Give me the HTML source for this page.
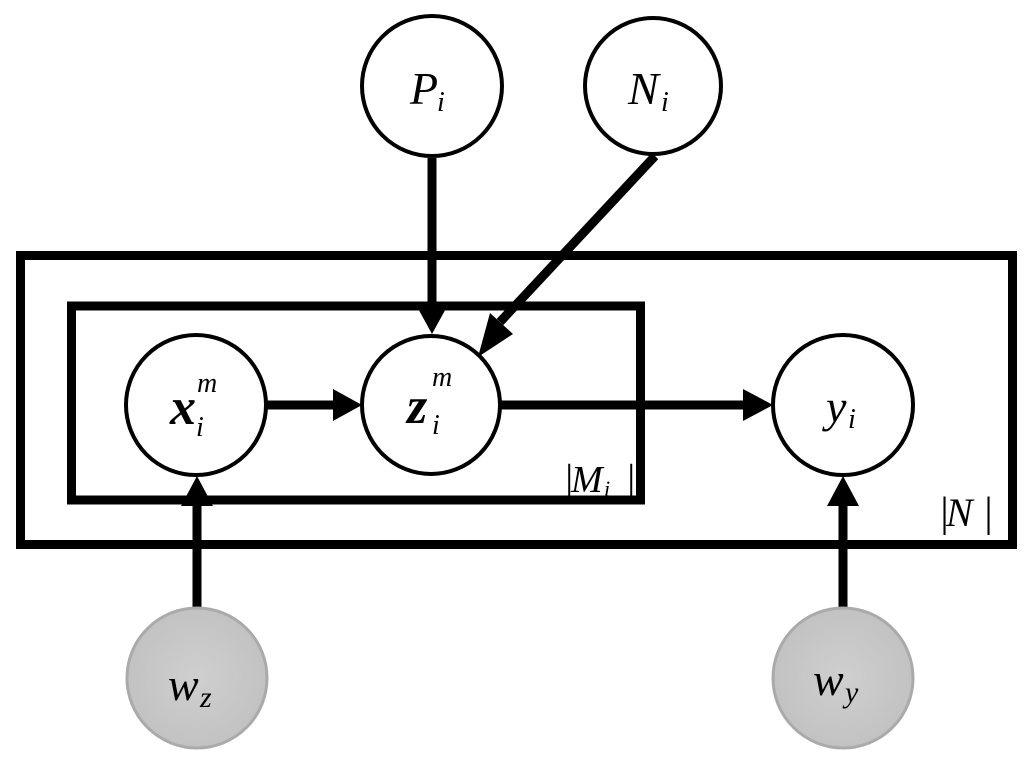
<!DOCTYPE html>
<html><head><meta charset="utf-8"><style>
html,body{margin:0;padding:0;background:#fff;}
svg{display:block;}
text{font-family:"Liberation Serif",serif;font-style:italic;fill:#000;}
</style></head><body>
<svg width="1024" height="772" viewBox="0 0 1024 772" xmlns="http://www.w3.org/2000/svg">
<defs>
<radialGradient id="g" cx="50%" cy="50%" r="50%">
<stop offset="0" stop-color="#cfcfcf"/><stop offset="1" stop-color="#c2c2c2"/>
</radialGradient>
</defs>
<rect x="20.5" y="255.5" width="992" height="289" fill="none" stroke="#000" stroke-width="9"/>
<rect x="71.5" y="306" width="569" height="194" fill="none" stroke="#000" stroke-width="9"/>

<line x1="432" y1="158" x2="432" y2="305" stroke="#000" stroke-width="9"/>
<polygon points="415,303 449,303 432,334" fill="#000"/>
<line x1="655" y1="156" x2="500" y2="322" stroke="#000" stroke-width="9"/>
<polygon points="478,357 490,313 513,334" fill="#000"/>
<line x1="266" y1="405" x2="335" y2="405" stroke="#000" stroke-width="9"/>
<polygon points="333,389 333,421 362,405" fill="#000"/>
<line x1="501" y1="405" x2="745" y2="405" stroke="#000" stroke-width="9"/>
<polygon points="743,389 743,421 773,405" fill="#000"/>
<line x1="197" y1="608" x2="197" y2="505" stroke="#000" stroke-width="9"/>
<polygon points="181,506 213,506 197,476" fill="#000"/>
<line x1="843" y1="608" x2="843" y2="505" stroke="#000" stroke-width="9"/>
<polygon points="827,506 859,506 843,476" fill="#000"/>

<circle cx="432" cy="86" r="70" fill="#fff" stroke="#000" stroke-width="4"/>
<circle cx="653" cy="86" r="68" fill="#fff" stroke="#000" stroke-width="4"/>
<circle cx="196" cy="405" r="70" fill="#fff" stroke="#000" stroke-width="4"/>
<circle cx="431" cy="405" r="69" fill="#fff" stroke="#000" stroke-width="4"/>
<circle cx="843" cy="405" r="70" fill="#fff" stroke="#000" stroke-width="4"/>
<circle cx="197" cy="678" r="70" fill="url(#g)" stroke="#aaa" stroke-width="3"/>
<circle cx="843" cy="678" r="70" fill="url(#g)" stroke="#aaa" stroke-width="3"/>

<text x="410" y="104" font-size="46">P</text><text x="437" y="111" font-size="28">i</text>
<text x="628" y="104" font-size="46">N</text><text x="661" y="111" font-size="28">i</text>
<text x="170" y="424" font-size="52" font-weight="bold">x</text><text x="196" y="436" font-size="28">i</text><text x="197" y="392" font-size="28">m</text>
<text x="407" y="423" font-size="52" font-weight="bold">z</text><text x="432" y="434" font-size="28">i</text><text x="432" y="386" font-size="28">m</text>
<text x="826" y="422" font-size="46">y</text><text x="848" y="428" font-size="28">i</text>
<text x="168" y="700" font-size="46">w</text><text x="200" y="707" font-size="30">z</text>
<text x="813" y="695" font-size="46">w</text><text x="845" y="702" font-size="30">y</text>
<text x="563" y="492" font-size="40" font-style="normal">|</text><text x="571" y="492" font-size="38">M</text><text x="604" y="496" font-size="22">i</text><text x="625" y="492" font-size="40" font-style="normal">|</text>
<text x="938" y="526" font-size="42" font-style="normal">|</text><text x="946" y="526" font-size="40">N</text><text x="982" y="526" font-size="42" font-style="normal">|</text>
</svg>
</body></html>
